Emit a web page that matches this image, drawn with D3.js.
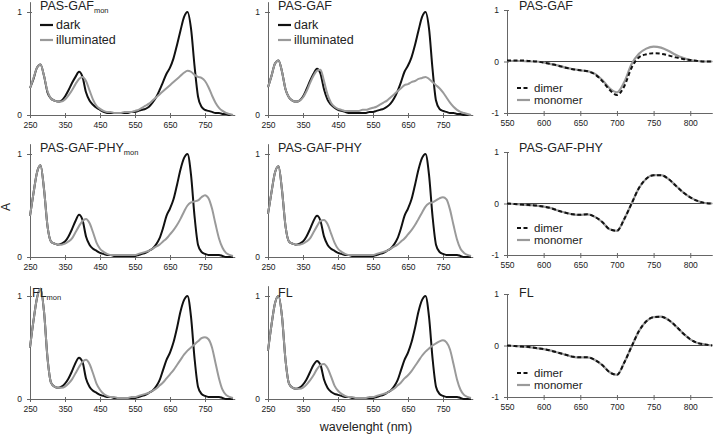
<!DOCTYPE html>
<html><head><meta charset="utf-8">
<script src="https://cdn.jsdelivr.net/npm/d3@7"></script>
<style>
body{margin:0;background:#fff;}
svg{font-family:"Liberation Sans",Arial,sans-serif;}
</style></head>
<body><svg id="c" width="713" height="435"></svg>
<script>
// ---------- data ----------
const wlAbs = d3.range(250, 831, 10);          // absorbance wavelengths (nm)
const wlDiff = d3.range(550, 831, 10);         // difference-spectra wavelengths (nm)
const absXTicks = [250, 350, 450, 550, 650, 750];
const absYTicks = [0, 1];
const diffXTicks = [550, 600, 650, 700, 750, 800];
const diffYTicks = [-1, 0, 1];
const absTitles = [["PAS-GAF","mon"],["PAS-GAF",""],["PAS-GAF-PHY","mon"],["PAS-GAF-PHY",""],["FL","mon"],["FL",""]];
const diffTitles = ["PAS-GAF","PAS-GAF-PHY","FL"];
const absLegend = ["dark","illuminated"];
const diffLegend = ["dimer","monomer"];

// PAS-GAF mon
const pgMonDark = [0.26,0.35,0.46,0.49,0.38,0.22,0.16,0.14,0.13,0.14, 0.18,0.24,0.31,0.37,0.42,0.37,0.22,0.14,0.10,0.07, 0.05,0.03,0.02,0.02,0.02,0.02,0.02,0.02,0.02,0.03, 0.03,0.04,0.05,0.06,0.08,0.12,0.17,0.24,0.32,0.40, 0.46,0.55,0.68,0.82,0.95,1.00,0.84,0.48,0.18,0.08, 0.05,0.04,0.03,0.02,0.02,0.01,0.01,0.00,0.00];
const pgMonLight = [0.26,0.36,0.46,0.49,0.38,0.23,0.16,0.14,0.13,0.13, 0.15,0.19,0.24,0.30,0.35,0.37,0.33,0.24,0.15,0.09, 0.06,0.04,0.03,0.03,0.02,0.02,0.02,0.03,0.03,0.03, 0.04,0.05,0.07,0.09,0.11,0.14,0.17,0.20,0.23,0.26, 0.29,0.32,0.35,0.38,0.41,0.43,0.42,0.39,0.37,0.36, 0.33,0.27,0.19,0.12,0.07,0.04,0.02,0.01,0.00];
// PAS-GAF
const pgDark = [0.27,0.38,0.50,0.53,0.42,0.25,0.17,0.14,0.13,0.14, 0.18,0.25,0.33,0.40,0.45,0.40,0.25,0.15,0.10,0.07, 0.05,0.04,0.03,0.02,0.02,0.02,0.02,0.02,0.02,0.03, 0.03,0.04,0.05,0.06,0.08,0.11,0.16,0.23,0.32,0.42, 0.48,0.56,0.68,0.82,0.95,1.00,0.84,0.45,0.14,0.06, 0.04,0.03,0.02,0.02,0.01,0.01,0.00,0.00,0.00];
const pgLight = [0.27,0.38,0.50,0.53,0.42,0.25,0.17,0.14,0.13,0.14, 0.17,0.23,0.31,0.38,0.43,0.44,0.33,0.20,0.12,0.08, 0.06,0.05,0.04,0.04,0.04,0.04,0.04,0.05,0.05,0.06, 0.07,0.08,0.10,0.12,0.14,0.17,0.20,0.23,0.26,0.29, 0.30,0.32,0.33,0.35,0.36,0.37,0.35,0.32,0.29,0.26, 0.22,0.17,0.12,0.08,0.05,0.03,0.02,0.01,0.00];
// PAS-GAF-PHY mon
const pgpMonDark = [0.40,0.62,0.82,0.89,0.66,0.30,0.15,0.13,0.12,0.13, 0.15,0.20,0.27,0.35,0.41,0.36,0.20,0.12,0.08,0.06, 0.04,0.03,0.02,0.02,0.01,0.01,0.01,0.01,0.01,0.01, 0.01,0.02,0.03,0.04,0.06,0.08,0.12,0.18,0.28,0.40, 0.47,0.56,0.70,0.85,0.96,1.00,0.80,0.40,0.12,0.05, 0.03,0.02,0.02,0.02,0.02,0.01,0.00,0.00,0.00];
const pgpMonLight = [0.40,0.62,0.82,0.89,0.66,0.30,0.15,0.13,0.12,0.12, 0.13,0.15,0.18,0.24,0.30,0.35,0.37,0.33,0.24,0.14, 0.08,0.05,0.03,0.02,0.02,0.02,0.02,0.02,0.02,0.02, 0.02,0.03,0.04,0.05,0.06,0.08,0.10,0.12,0.15,0.18, 0.22,0.26,0.31,0.37,0.44,0.50,0.53,0.54,0.55,0.58, 0.60,0.57,0.47,0.32,0.18,0.09,0.04,0.02,0.01];
// PAS-GAF-PHY
const pgpDark = [0.42,0.63,0.82,0.88,0.65,0.30,0.15,0.13,0.12,0.13, 0.15,0.20,0.27,0.35,0.40,0.35,0.20,0.12,0.08,0.06, 0.04,0.03,0.02,0.02,0.01,0.01,0.01,0.01,0.01,0.01, 0.01,0.02,0.03,0.04,0.06,0.08,0.12,0.18,0.28,0.40, 0.47,0.56,0.70,0.85,0.96,1.00,0.80,0.40,0.12,0.05, 0.03,0.02,0.02,0.02,0.02,0.01,0.00,0.00,0.00];
const pgpLight = [0.42,0.63,0.82,0.88,0.65,0.30,0.15,0.13,0.12,0.12, 0.13,0.15,0.18,0.24,0.30,0.35,0.36,0.32,0.23,0.14, 0.08,0.05,0.03,0.02,0.02,0.02,0.02,0.02,0.02,0.02, 0.02,0.03,0.04,0.05,0.06,0.08,0.10,0.12,0.15,0.18, 0.22,0.26,0.31,0.37,0.43,0.49,0.52,0.53,0.55,0.57, 0.58,0.56,0.46,0.31,0.17,0.08,0.04,0.02,0.01];
// FL mon
const flMonDark = [0.50,0.76,0.98,1.07,0.85,0.40,0.16,0.12,0.11,0.12, 0.15,0.20,0.27,0.35,0.40,0.36,0.20,0.12,0.08,0.06, 0.04,0.03,0.02,0.02,0.01,0.01,0.01,0.01,0.01,0.01, 0.01,0.02,0.03,0.04,0.06,0.08,0.12,0.18,0.28,0.38, 0.45,0.55,0.69,0.85,0.96,1.00,0.80,0.40,0.12,0.05, 0.03,0.02,0.02,0.02,0.02,0.01,0.00,0.00,0.00];
const flMonLight = [0.50,0.76,0.98,1.07,0.85,0.40,0.16,0.12,0.11,0.11, 0.12,0.15,0.19,0.25,0.31,0.36,0.38,0.34,0.25,0.15, 0.09,0.05,0.03,0.02,0.02,0.01,0.01,0.01,0.01,0.02, 0.02,0.03,0.04,0.05,0.06,0.08,0.10,0.13,0.16,0.20, 0.24,0.28,0.33,0.38,0.43,0.47,0.50,0.53,0.56,0.59, 0.60,0.58,0.50,0.35,0.20,0.09,0.04,0.02,0.01];
// FL
const flDark = [0.47,0.72,0.93,1.00,0.80,0.38,0.15,0.11,0.10,0.11, 0.14,0.19,0.26,0.33,0.37,0.33,0.19,0.11,0.07,0.05, 0.04,0.03,0.02,0.02,0.01,0.01,0.01,0.01,0.01,0.01, 0.01,0.02,0.03,0.04,0.06,0.08,0.12,0.18,0.28,0.38, 0.45,0.55,0.69,0.85,0.96,1.00,0.80,0.40,0.12,0.05, 0.03,0.02,0.02,0.02,0.02,0.01,0.00,0.00,0.00];
const flLight = [0.47,0.72,0.93,1.00,0.80,0.38,0.15,0.11,0.10,0.10, 0.11,0.14,0.18,0.23,0.29,0.33,0.34,0.30,0.22,0.13, 0.08,0.05,0.03,0.02,0.02,0.01,0.01,0.01,0.01,0.02, 0.02,0.03,0.04,0.05,0.06,0.08,0.10,0.13,0.16,0.20, 0.23,0.27,0.32,0.37,0.42,0.46,0.49,0.52,0.54,0.56, 0.57,0.55,0.48,0.34,0.19,0.09,0.04,0.02,0.01];

// difference spectra
const pgDimer = [0.02,0.02,0.02,0.01,0.00,-0.02,-0.05,-0.08,-0.12,-0.15, -0.17,-0.19,-0.25,-0.38,-0.55,-0.65,-0.48,-0.12,0.08,0.14, 0.16,0.15,0.12,0.08,0.05,0.03,0.01,0.00,0.00];
const pgMonomer = [0.01,0.01,0.01,0.00,0.00,-0.02,-0.05,-0.08,-0.12,-0.15, -0.17,-0.19,-0.24,-0.36,-0.52,-0.60,-0.40,-0.05,0.15,0.25, 0.29,0.27,0.21,0.13,0.07,0.03,0.01,0.00,0.00];
const pgpDimer = [0.00,-0.01,-0.02,-0.03,-0.04,-0.06,-0.09,-0.14,-0.18,-0.21, -0.22,-0.21,-0.26,-0.36,-0.50,-0.53,-0.30,0.00,0.30,0.48, 0.55,0.55,0.48,0.35,0.22,0.12,0.05,0.01,0.00];
const pgpMonomer = [0.00,-0.01,-0.02,-0.03,-0.04,-0.06,-0.09,-0.14,-0.18,-0.21, -0.22,-0.21,-0.26,-0.36,-0.50,-0.53,-0.30,0.00,0.30,0.48, 0.55,0.55,0.48,0.35,0.22,0.12,0.05,0.01,0.00];
const flDimer = [0.00,-0.01,-0.02,-0.03,-0.05,-0.07,-0.10,-0.14,-0.18,-0.22, -0.23,-0.23,-0.28,-0.38,-0.52,-0.57,-0.33,-0.02,0.28,0.47, 0.55,0.56,0.50,0.38,0.24,0.12,0.05,0.02,0.00];
const flMonomer = [0.00,-0.01,-0.02,-0.03,-0.05,-0.07,-0.10,-0.14,-0.18,-0.22, -0.23,-0.23,-0.28,-0.38,-0.52,-0.57,-0.33,-0.02,0.28,0.47, 0.55,0.56,0.50,0.38,0.24,0.12,0.05,0.02,0.00];

// ---------- drawing ----------
const svg = d3.select("#c");
const BLACK = "#111", GREY = "#9a9a9a", AXIS = "#666";
const rowOff = [0, 142, 284];
const titleY = [10, 152, 297];
const absPanels = [
  {col:0,row:0,dark:pgMonDark,light:pgMonLight,title:absTitles[0],legend:true},
  {col:1,row:0,dark:pgDark,light:pgLight,title:absTitles[1],legend:true},
  {col:0,row:1,dark:pgpMonDark,light:pgpMonLight,title:absTitles[2]},
  {col:1,row:1,dark:pgpDark,light:pgpLight,title:absTitles[3]},
  {col:0,row:2,dark:flMonDark,light:flMonLight,title:absTitles[4],tx:32},
  {col:1,row:2,dark:flDark,light:flLight,title:absTitles[5]}
];
const diffPanels = [
  {row:0,dim:pgDimer,mono:pgMonomer,title:diffTitles[0],ly:88},
  {row:1,dim:pgpDimer,mono:pgpMonomer,title:diffTitles[1],ly:228},
  {row:2,dim:flDimer,mono:flMonomer,title:diffTitles[2],ly:373}
];
const colX = [30, 268];
const fmt = d => String(d);

function styleAxis(g, horiz){
  g.select(".domain").attr("stroke", AXIS).attr("stroke-width",1);
  g.selectAll(".tick line").attr("stroke", AXIS);
  if(horiz) g.selectAll(".tick line").attr("y1",-2).attr("y2",3);
  else g.selectAll(".tick line").attr("x1",2).attr("x2",-3);
  g.selectAll(".tick text").attr("fill","#222").style("font-size","8.5px").style("font-family","'Liberation Sans',Arial,sans-serif");
}
function title(g, x, y, main, sub){
  const t = g.append("text").attr("x",x).attr("y",y).attr("fill","#222").style("font-size","12.5px").text(main);
  if(sub) t.append("tspan").attr("dy",2.5).attr("fill","#222").style("font-size","7.5px").text(sub);
}

absPanels.forEach(p=>{
  const off = rowOff[p.row], x0 = colX[p.col];
  const x = d3.scaleLinear().domain([250,835]).range([x0, x0 + 585*0.35]);
  const y = d3.scaleLinear().domain([0,1.1]).range([115+off, 115+off-1.1*103]);
  const g = svg.append("g");
  g.append("g").attr("transform",`translate(0,${y(0)})`)
    .call(d3.axisBottom(x).tickValues(absXTicks).tickFormat(fmt).tickSize(3).tickPadding(4).tickSizeOuter(0))
    .call(a=>styleAxis(a,true));
  g.append("g").attr("transform",`translate(${x0},0)`)
    .call(d3.axisLeft(y).tickValues(absYTicks).tickFormat(fmt).tickSize(3).tickPadding(5).tickSizeOuter(0))
    .call(a=>styleAxis(a,false));
  const line = d3.line().x((d,i)=>x(wlAbs[i])).y(d=>y(d)).curve(d3.curveMonotoneX);
  g.append("path").attr("d",line(p.dark)).attr("fill","none").attr("stroke",BLACK).attr("stroke-width",2);
  g.append("path").attr("d",line(p.light)).attr("fill","none").attr("stroke",GREY).attr("stroke-width",2);
  title(g, p.tx || x0+10, titleY[p.row], p.title[0], p.title[1]);
  if(p.legend){
    [[absLegend[0],BLACK,25],[absLegend[1],GREY,40]].forEach(([lab,col,ly])=>{
      g.append("line").attr("x1",x0+10).attr("x2",x0+23).attr("y1",ly).attr("y2",ly).attr("stroke",col).attr("stroke-width",2.2);
      g.append("text").attr("x",x0+26).attr("y",ly+4).attr("fill","#222").style("font-size","12.5px").text(lab);
    });
  }
});

diffPanels.forEach(p=>{
  const off = rowOff[p.row], x0 = 507;
  const x = d3.scaleLinear().domain([550,830]).range([x0, x0 + 280*0.733]);
  const y = d3.scaleLinear().domain([-1,1]).range([113+off, 10+off]);
  const g = svg.append("g");
  g.append("line").attr("x1",x(550)).attr("x2",x(830)).attr("y1",y(0)).attr("y2",y(0)).attr("stroke","#444").attr("stroke-width",1);
  g.append("g").attr("transform",`translate(0,${y(-1)})`)
    .call(d3.axisBottom(x).tickValues(diffXTicks).tickFormat(fmt).tickSize(3).tickPadding(4).tickSizeOuter(0))
    .call(a=>styleAxis(a,true));
  g.append("g").attr("transform",`translate(${x0},0)`)
    .call(d3.axisLeft(y).tickValues(diffYTicks).tickFormat(fmt).tickSize(3).tickPadding(5).tickSizeOuter(0))
    .call(a=>styleAxis(a,false));
  const line = d3.line().x((d,i)=>x(wlDiff[i])).y(d=>y(d)).curve(d3.curveMonotoneX);
  g.append("path").attr("d",line(p.mono)).attr("fill","none").attr("stroke",GREY).attr("stroke-width",2.2);
  g.append("path").attr("d",line(p.dim)).attr("fill","none").attr("stroke",BLACK).attr("stroke-width",2).attr("stroke-dasharray","4,2.5");
  title(g, 519, titleY[p.row], p.title, "");
  [[diffLegend[0],BLACK,p.ly,"4,2.5"],[diffLegend[1],GREY,p.ly+12,null]].forEach(([lab,col,ly,dash])=>{
    g.append("line").attr("x1",517).attr("x2",530).attr("y1",ly).attr("y2",ly).attr("stroke",col).attr("stroke-width",2.2).attr("stroke-dasharray",dash);
    g.append("text").attr("x",534).attr("y",ly+4).attr("fill","#222").style("font-size","11.5px").text(lab);
  });
});

svg.append("text").attr("transform","translate(10,207) rotate(-90)").attr("text-anchor","middle")
  .attr("fill","#222").style("font-size","12px").text("A");
svg.append("text").attr("x",366).attr("y",431).attr("text-anchor","middle")
  .attr("fill","#222").style("font-size","12.5px").text("wavelenght (nm)");
</script></body></html>
